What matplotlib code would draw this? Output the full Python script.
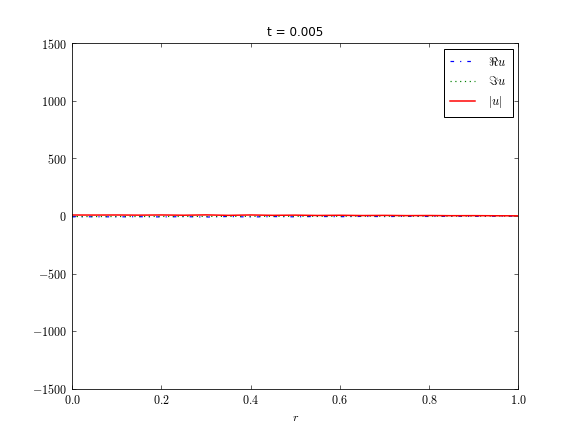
import numpy as np
import matplotlib
matplotlib.use('Agg')
import matplotlib.pyplot as plt

r = [0.0, 0.05, 0.1, 0.15, 0.2, 0.25, 0.3, 0.35, 0.4, 0.45, 0.5,
     0.55, 0.6, 0.65, 0.7, 0.75, 0.8, 0.85, 0.9, 0.95, 1.0]
re_u = [-7.0, -6.5, -7.5, -6.0, -8.0, -5.5, -9.0, -4.5, -8.5, -5.0, -7.0,
        -4.0, -6.0, -3.5, -5.0, -3.0, -4.0, -2.5, -3.0, -2.0, -1.5]
im_u = [-5.0, -5.0, -4.5, -4.5, -4.0, -4.0, -3.5, -3.5, -3.0, -3.0, -2.5,
        -2.5, -2.0, -2.0, -1.8, -1.5, -1.2, -1.0, -0.8, -0.6, -0.4]
abs_u = np.hypot(re_u, im_u)

xticks = [0.0, 0.2, 0.4, 0.6, 0.8, 1.0]
yticks = [-1500, -1000, -500, 0, 500, 1000, 1500]

plt.rcParams['mathtext.fontset'] = 'cm'
plt.rcParams['xtick.direction'] = 'in'
plt.rcParams['ytick.direction'] = 'in'

fig = plt.figure(figsize=(8, 6), dpi=72)
ax = fig.add_subplot(111)
fig.subplots_adjust(left=0.125, right=0.9, bottom=0.1, top=0.9)

ax.plot(r, re_u, color='blue', ls='-.', dashes=(3, 5, 1, 5), lw=1.2,
        label=r'$\Re u$')
ax.plot(r, im_u, color='green', ls=':', dashes=(1, 3), lw=1.2,
        label=r'$\Im u$')
ax.plot(r, abs_u, color='red', ls='-', lw=1.5, label=r'$|u|$')

ax.set_xlim(0, 1)
ax.set_ylim(-1500, 1500)
ax.set_xticks(xticks)
ax.set_yticks(yticks)
ax.set_xticklabels(['$%.1f$' % v for v in xticks], fontsize=12)
ax.set_yticklabels(['$%d$' % v for v in yticks], fontsize=12)
ax.tick_params(top=True, right=True, length=4, width=0.6, pad=5)
ax.set_xlabel('$r$', fontsize=12)
ax.set_title('t = 0.005', fontsize=12, family='DejaVu Sans', pad=7)

leg = ax.legend(loc='upper right', fontsize=12.5, fancybox=False,
                framealpha=1, edgecolor='black', handlelength=2.0,
                borderpad=0.55, handletextpad=1.0, borderaxespad=0.45)
leg.get_frame().set_linewidth(1.0)

fig.savefig('out.png', dpi=72)
